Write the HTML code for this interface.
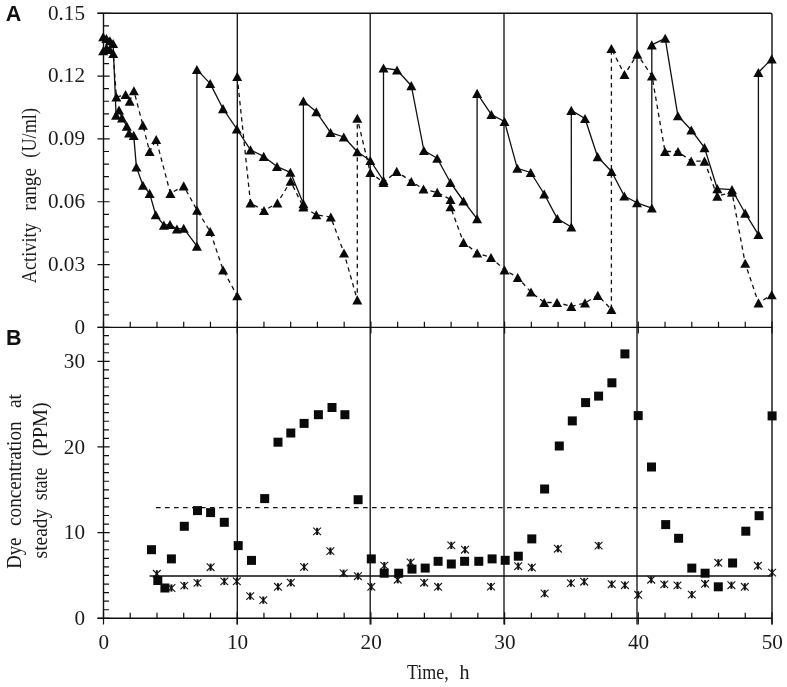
<!DOCTYPE html>
<html lang="en"><head><meta charset="utf-8"><title>Activity range and dye concentration</title>
<style>
html,body{margin:0;padding:0;background:#fff;}
body{width:787px;height:687px;overflow:hidden;}
svg{display:block;filter:blur(0.3px);}
.ser{font-family:"Liberation Serif",serif;font-size:20px;fill:#1a1a1a;}
.lab{font-family:"Liberation Sans",sans-serif;font-weight:bold;font-size:21.5px;fill:#111;}
</style></head><body>
<svg width="787" height="687" viewBox="0 0 787 687">
<rect x="0" y="0" width="787" height="687" fill="#ffffff"/>
<defs>
<path id="tri" d="M0,-4.6 L5,4.5 L-5,4.5 Z"/>
<rect id="sq" x="-4.5" y="-4.5" width="9" height="9"/>
<g id="ast"><path d="M-3.9,-3.8 L3.9,3.8 M3.9,-3.8 L-3.9,3.8" fill="none" stroke="#161616" stroke-width="1.1"/><path d="M0,-3.6 L0,3.6" fill="none" stroke="#111" stroke-width="2.1"/></g>
</defs>

<g fill="none" stroke="#101010" stroke-width="1.4" stroke-linecap="butt">
<path d="M97.5,13.3 H770.5 Q772,13.3 772,14.8 V624.5"/>
<path d="M103.5,13.3 V618.3"/>
<path d="M97.5,327.4 H772"/>
<path d="M97.5,618.3 H772"/>
<path d="M237.3,13.3 V624.5" stroke-width="1.3" stroke="#0c0c0c"/>
<path d="M370.2,13.3 V624.5" stroke-width="1.3" stroke="#0c0c0c"/>
<path d="M504.0,13.3 V624.5" stroke-width="1.3" stroke="#0c0c0c"/>
<path d="M637.0,13.3 V624.5" stroke-width="1.3" stroke="#0c0c0c"/>
</g>
<g fill="none" stroke="#101010" stroke-width="1.2">
<path d="M97.5,327.40 H109.7 M103.5,314.84 H109 M103.5,302.27 H109 M103.5,289.71 H109 M103.5,277.14 H109 M97.5,264.58 H109.7 M103.5,252.02 H109 M103.5,239.45 H109 M103.5,226.89 H109 M103.5,214.32 H109 M97.5,201.76 H109.7 M103.5,189.20 H109 M103.5,176.63 H109 M103.5,164.07 H109 M103.5,151.50 H109 M97.5,138.94 H109.7 M103.5,126.38 H109 M103.5,113.81 H109 M103.5,101.25 H109 M103.5,88.68 H109 M97.5,76.12 H109.7 M103.5,63.56 H109 M103.5,50.99 H109 M103.5,38.43 H109 M103.5,25.86 H109 M97.5,13.30 H109.7 M97.5,618.30 H109.7 M103.5,609.73 H109 M103.5,601.17 H109 M103.5,592.60 H109 M103.5,584.03 H109 M103.5,575.47 H109 M103.5,566.90 H109 M103.5,558.33 H109 M103.5,549.77 H109 M103.5,541.20 H109 M97.5,532.63 H109.7 M103.5,524.07 H109 M103.5,515.50 H109 M103.5,506.93 H109 M103.5,498.37 H109 M103.5,489.80 H109 M103.5,481.23 H109 M103.5,472.67 H109 M103.5,464.10 H109 M103.5,455.53 H109 M97.5,446.97 H109.7 M103.5,438.40 H109 M103.5,429.83 H109 M103.5,421.27 H109 M103.5,412.70 H109 M103.5,404.13 H109 M103.5,395.57 H109 M103.5,387.00 H109 M103.5,378.43 H109 M103.5,369.87 H109 M97.5,361.30 H109.7 M103.5,352.73 H109 M103.5,344.17 H109 M103.5,335.60 H109 M103.50,321.4 V333.59999999999997 M130.24,321.79999999999995 V327.4 M156.98,321.79999999999995 V327.4 M183.72,321.79999999999995 V327.4 M210.46,321.79999999999995 V327.4 M237.20,321.4 V333.59999999999997 M263.94,321.79999999999995 V327.4 M290.68,321.79999999999995 V327.4 M317.42,321.79999999999995 V327.4 M344.16,321.79999999999995 V327.4 M370.90,321.4 V333.59999999999997 M397.64,321.79999999999995 V327.4 M424.38,321.79999999999995 V327.4 M451.12,321.79999999999995 V327.4 M477.86,321.79999999999995 V327.4 M504.60,321.4 V333.59999999999997 M531.34,321.79999999999995 V327.4 M558.08,321.79999999999995 V327.4 M584.82,321.79999999999995 V327.4 M611.56,321.79999999999995 V327.4 M638.30,321.4 V333.59999999999997 M665.04,321.79999999999995 V327.4 M691.78,321.79999999999995 V327.4 M718.52,321.79999999999995 V327.4 M745.26,321.79999999999995 V327.4 M772.00,321.4 V333.59999999999997 M103.50,612.3 V624.5 M130.24,612.6999999999999 V618.3 M156.98,612.6999999999999 V618.3 M183.72,612.6999999999999 V618.3 M210.46,612.6999999999999 V618.3 M237.20,612.3 V624.5 M263.94,612.6999999999999 V618.3 M290.68,612.6999999999999 V618.3 M317.42,612.6999999999999 V618.3 M344.16,612.6999999999999 V618.3 M370.90,612.3 V624.5 M397.64,612.6999999999999 V618.3 M424.38,612.6999999999999 V618.3 M451.12,612.6999999999999 V618.3 M477.86,612.6999999999999 V618.3 M504.60,612.3 V624.5 M531.34,612.6999999999999 V618.3 M558.08,612.6999999999999 V618.3 M584.82,612.6999999999999 V618.3 M611.56,612.6999999999999 V618.3 M638.30,612.3 V624.5 M665.04,612.6999999999999 V618.3 M691.78,612.6999999999999 V618.3 M718.52,612.6999999999999 V618.3 M745.26,612.6999999999999 V618.3 M772.00,612.3 V624.5"/>
</g>
<path d="M149.6,576 H772" stroke="#0c0c0c" stroke-width="1.3" fill="none"/>
<path d="M156,507.7 H772" stroke="#101010" stroke-width="1.3" stroke-dasharray="4.6 4.4" fill="none"/>
<path d="M103.2,50.8 L106.5,48.0 L109.8,49.5 L113.2,53.6 L116.4,97.1 L125.6,94.6 L129.7,101.2 L133.9,90.8 L142.9,125.2 L149.6,151.6 L156.2,139.6 L170.4,193.4 L183.7,185.9 L197.1,210.3 L210.2,231.6 L223.1,270 L237.2,295.8 M237.2,76.5 L250.5,203 L264,210.6 L277.4,203.1 L290.6,181.3 L303.3,207 L316.3,214.8 L330.8,217.1 L344,253 L357.3,299.9 L357.3,118.3 L370.3,172.5 L383.5,182.6 L396.7,171.4 L411.3,181.5 L423.5,189.1 L437.2,192.4 L450.5,199.5 L450.5,206.8 L463.5,242.4 L477.2,253 L491,257.5 L504.5,269.9 L517.7,277.5 L531,292.1 L544.2,302.5 L557,302.5 L571.3,306.4 L585,302.9 L597.8,295.4 L611.4,309.5 L611.4,48.5 L624.5,74.6 L637.3,54.2 L652,76.1 L665,151.5 L678,151.5 L691.2,161.2 L704.5,161.2 L717.3,196.2 L732,192.2 L745.2,263.3 L758.5,302.9 L771.7,294.8" stroke="#101010" stroke-width="1.3" stroke-dasharray="4.4 3.8" fill="none" stroke-linejoin="round"/>
<path d="M103.2,36.8 L106.4,38.5 L109.9,40.8 L113.1,43.6 L116.1,115.2 L119,110.1 L122,117.9 L126.8,126.2 L129.1,133 L133.7,135.4 L136.4,167.1 L142.9,185.3 L149.6,193.4 L155.7,214.8 L163.9,225.2 L170,224.6 L176.9,229.1 L183.7,228.3 L196.9,246.2 L196.9,69.6 L210.2,83.6 L223,108.7 L236.8,129 L250.5,149.9 L263.7,156.4 L277,166.6 L290.4,172.3 L303.4,203.7 L303.4,101 L316.3,111.8 L330.6,132.6 L343.8,137 L357.3,151.8 L370.3,160.5 L383.5,180.6 L383.5,68.1 L397,70 L411.3,85.7 L423.9,150.5 L437.2,158.3 L450.4,182.5 L463.5,201 L477.1,218.8 L477.1,93.4 L491.4,114.6 L504.5,121.5 L517.3,168.3 L530.7,172.5 L544.2,194 L557.3,218.6 L571.3,227 L571.3,110.4 L585,118.5 L597.6,156.7 L611.5,171.5 L624.3,196 L637,202.8 L651.8,208.1 L651.8,44.9 L665.2,38.3 L677.9,115.8 L691.3,130 L704.5,147.7 L717.3,188.7 L732,189.7 L745.2,213.2 L758.4,234.6 L758.4,72.5 L771.7,58.9" stroke="#101010" stroke-width="1.3" fill="none" stroke-linejoin="round"/>
<g fill="#0a0a0a">
<use href="#tri" x="103.2" y="50.8"/>
<use href="#tri" x="106.5" y="48.0"/>
<use href="#tri" x="109.8" y="49.5"/>
<use href="#tri" x="113.2" y="53.6"/>
<use href="#tri" x="116.4" y="97.1"/>
<use href="#tri" x="125.6" y="94.6"/>
<use href="#tri" x="129.7" y="101.2"/>
<use href="#tri" x="133.9" y="90.8"/>
<use href="#tri" x="142.9" y="125.2"/>
<use href="#tri" x="149.6" y="151.6"/>
<use href="#tri" x="156.2" y="139.6"/>
<use href="#tri" x="170.4" y="193.4"/>
<use href="#tri" x="183.7" y="185.9"/>
<use href="#tri" x="197.1" y="210.3"/>
<use href="#tri" x="210.2" y="231.6"/>
<use href="#tri" x="223.1" y="270"/>
<use href="#tri" x="237.2" y="295.8"/>
<use href="#tri" x="237.2" y="76.5"/>
<use href="#tri" x="250.5" y="203"/>
<use href="#tri" x="264" y="210.6"/>
<use href="#tri" x="277.4" y="203.1"/>
<use href="#tri" x="290.6" y="181.3"/>
<use href="#tri" x="303.3" y="207"/>
<use href="#tri" x="316.3" y="214.8"/>
<use href="#tri" x="330.8" y="217.1"/>
<use href="#tri" x="344" y="253"/>
<use href="#tri" x="357.3" y="299.9"/>
<use href="#tri" x="357.3" y="118.3"/>
<use href="#tri" x="370.3" y="172.5"/>
<use href="#tri" x="383.5" y="182.6"/>
<use href="#tri" x="396.7" y="171.4"/>
<use href="#tri" x="411.3" y="181.5"/>
<use href="#tri" x="423.5" y="189.1"/>
<use href="#tri" x="437.2" y="192.4"/>
<use href="#tri" x="450.5" y="199.5"/>
<use href="#tri" x="450.5" y="206.8"/>
<use href="#tri" x="463.5" y="242.4"/>
<use href="#tri" x="477.2" y="253"/>
<use href="#tri" x="491" y="257.5"/>
<use href="#tri" x="504.5" y="269.9"/>
<use href="#tri" x="517.7" y="277.5"/>
<use href="#tri" x="531" y="292.1"/>
<use href="#tri" x="544.2" y="302.5"/>
<use href="#tri" x="557" y="302.5"/>
<use href="#tri" x="571.3" y="306.4"/>
<use href="#tri" x="585" y="302.9"/>
<use href="#tri" x="597.8" y="295.4"/>
<use href="#tri" x="611.4" y="309.5"/>
<use href="#tri" x="611.4" y="48.5"/>
<use href="#tri" x="624.5" y="74.6"/>
<use href="#tri" x="637.3" y="54.2"/>
<use href="#tri" x="652" y="76.1"/>
<use href="#tri" x="665" y="151.5"/>
<use href="#tri" x="678" y="151.5"/>
<use href="#tri" x="691.2" y="161.2"/>
<use href="#tri" x="704.5" y="161.2"/>
<use href="#tri" x="717.3" y="196.2"/>
<use href="#tri" x="732" y="192.2"/>
<use href="#tri" x="745.2" y="263.3"/>
<use href="#tri" x="758.5" y="302.9"/>
<use href="#tri" x="771.7" y="294.8"/>
<use href="#tri" x="103.2" y="36.8"/>
<use href="#tri" x="106.4" y="38.5"/>
<use href="#tri" x="109.9" y="40.8"/>
<use href="#tri" x="113.1" y="43.6"/>
<use href="#tri" x="116.1" y="115.2"/>
<use href="#tri" x="119" y="110.1"/>
<use href="#tri" x="122" y="117.9"/>
<use href="#tri" x="126.8" y="126.2"/>
<use href="#tri" x="129.1" y="133"/>
<use href="#tri" x="133.7" y="135.4"/>
<use href="#tri" x="136.4" y="167.1"/>
<use href="#tri" x="142.9" y="185.3"/>
<use href="#tri" x="149.6" y="193.4"/>
<use href="#tri" x="155.7" y="214.8"/>
<use href="#tri" x="163.9" y="225.2"/>
<use href="#tri" x="170" y="224.6"/>
<use href="#tri" x="176.9" y="229.1"/>
<use href="#tri" x="183.7" y="228.3"/>
<use href="#tri" x="196.9" y="246.2"/>
<use href="#tri" x="196.9" y="69.6"/>
<use href="#tri" x="210.2" y="83.6"/>
<use href="#tri" x="223" y="108.7"/>
<use href="#tri" x="236.8" y="129"/>
<use href="#tri" x="250.5" y="149.9"/>
<use href="#tri" x="263.7" y="156.4"/>
<use href="#tri" x="277" y="166.6"/>
<use href="#tri" x="290.4" y="172.3"/>
<use href="#tri" x="303.4" y="203.7"/>
<use href="#tri" x="303.4" y="101"/>
<use href="#tri" x="316.3" y="111.8"/>
<use href="#tri" x="330.6" y="132.6"/>
<use href="#tri" x="343.8" y="137"/>
<use href="#tri" x="357.3" y="151.8"/>
<use href="#tri" x="370.3" y="160.5"/>
<use href="#tri" x="383.5" y="180.6"/>
<use href="#tri" x="383.5" y="68.1"/>
<use href="#tri" x="397" y="70"/>
<use href="#tri" x="411.3" y="85.7"/>
<use href="#tri" x="423.9" y="150.5"/>
<use href="#tri" x="437.2" y="158.3"/>
<use href="#tri" x="450.4" y="182.5"/>
<use href="#tri" x="463.5" y="201"/>
<use href="#tri" x="477.1" y="218.8"/>
<use href="#tri" x="477.1" y="93.4"/>
<use href="#tri" x="491.4" y="114.6"/>
<use href="#tri" x="504.5" y="121.5"/>
<use href="#tri" x="517.3" y="168.3"/>
<use href="#tri" x="530.7" y="172.5"/>
<use href="#tri" x="544.2" y="194"/>
<use href="#tri" x="557.3" y="218.6"/>
<use href="#tri" x="571.3" y="227"/>
<use href="#tri" x="571.3" y="110.4"/>
<use href="#tri" x="585" y="118.5"/>
<use href="#tri" x="597.6" y="156.7"/>
<use href="#tri" x="611.5" y="171.5"/>
<use href="#tri" x="624.3" y="196"/>
<use href="#tri" x="637" y="202.8"/>
<use href="#tri" x="651.8" y="208.1"/>
<use href="#tri" x="651.8" y="44.9"/>
<use href="#tri" x="665.2" y="38.3"/>
<use href="#tri" x="677.9" y="115.8"/>
<use href="#tri" x="691.3" y="130"/>
<use href="#tri" x="704.5" y="147.7"/>
<use href="#tri" x="717.3" y="188.7"/>
<use href="#tri" x="732" y="189.7"/>
<use href="#tri" x="745.2" y="213.2"/>
<use href="#tri" x="758.4" y="234.6"/>
<use href="#tri" x="758.4" y="72.5"/>
<use href="#tri" x="771.7" y="58.9"/>
</g>
<g>
<use href="#ast" x="156.8" y="573.8"/>
<use href="#ast" x="171.4" y="588"/>
<use href="#ast" x="184.3" y="585.6"/>
<use href="#ast" x="197.5" y="582.9"/>
<use href="#ast" x="210.6" y="567.2"/>
<use href="#ast" x="224.3" y="581.4"/>
<use href="#ast" x="236.8" y="581.3"/>
<use href="#ast" x="250.2" y="596.1"/>
<use href="#ast" x="263.3" y="600.1"/>
<use href="#ast" x="278" y="586.8"/>
<use href="#ast" x="290.8" y="582.7"/>
<use href="#ast" x="304.1" y="567"/>
<use href="#ast" x="317.1" y="531.4"/>
<use href="#ast" x="330.4" y="551.1"/>
<use href="#ast" x="343.6" y="573.2"/>
<use href="#ast" x="357.9" y="576.2"/>
<use href="#ast" x="371.3" y="586.8"/>
<use href="#ast" x="384.3" y="565.6"/>
<use href="#ast" x="397.7" y="579.7"/>
<use href="#ast" x="410.6" y="562.4"/>
<use href="#ast" x="424.2" y="582.7"/>
<use href="#ast" x="438.1" y="586.8"/>
<use href="#ast" x="451.3" y="545.4"/>
<use href="#ast" x="465" y="549.7"/>
<use href="#ast" x="491" y="586.6"/>
<use href="#ast" x="518.2" y="566.2"/>
<use href="#ast" x="531.8" y="567.5"/>
<use href="#ast" x="544.6" y="593.5"/>
<use href="#ast" x="557.9" y="548.7"/>
<use href="#ast" x="570.9" y="583.1"/>
<use href="#ast" x="584.2" y="581.7"/>
<use href="#ast" x="598.6" y="545.6"/>
<use href="#ast" x="611.7" y="584.2"/>
<use href="#ast" x="624.9" y="585.2"/>
<use href="#ast" x="638.2" y="594.8"/>
<use href="#ast" x="651.2" y="579.7"/>
<use href="#ast" x="664.3" y="584.4"/>
<use href="#ast" x="677.5" y="585.4"/>
<use href="#ast" x="691.8" y="594.6"/>
<use href="#ast" x="705.1" y="583.8"/>
<use href="#ast" x="718.3" y="562.8"/>
<use href="#ast" x="731.4" y="585.2"/>
<use href="#ast" x="744.8" y="586.8"/>
<use href="#ast" x="757.9" y="565.8"/>
<use href="#ast" x="772.1" y="572.6"/>
</g>
<g fill="#0a0a0a">
<use href="#sq" x="151.5" y="549.7"/>
<use href="#sq" x="157.8" y="580.5"/>
<use href="#sq" x="164.9" y="588"/>
<use href="#sq" x="171.4" y="558.9"/>
<use href="#sq" x="184.3" y="526.3"/>
<use href="#sq" x="197.5" y="510.6"/>
<use href="#sq" x="210.6" y="512.6"/>
<use href="#sq" x="224.3" y="522.3"/>
<use href="#sq" x="238.2" y="545.6"/>
<use href="#sq" x="251.5" y="560.4"/>
<use href="#sq" x="264.7" y="498.6"/>
<use href="#sq" x="278" y="442.2"/>
<use href="#sq" x="290.8" y="433"/>
<use href="#sq" x="304.1" y="423.4"/>
<use href="#sq" x="318.4" y="414.7"/>
<use href="#sq" x="332" y="407.5"/>
<use href="#sq" x="344.9" y="414.7"/>
<use href="#sq" x="358.1" y="499.7"/>
<use href="#sq" x="371.3" y="558.9"/>
<use href="#sq" x="384.2" y="573.2"/>
<use href="#sq" x="398.7" y="573.2"/>
<use href="#sq" x="412" y="569.1"/>
<use href="#sq" x="425.2" y="568.1"/>
<use href="#sq" x="438.1" y="561.3"/>
<use href="#sq" x="451.3" y="564"/>
<use href="#sq" x="464.6" y="561.3"/>
<use href="#sq" x="478.8" y="561.3"/>
<use href="#sq" x="492.1" y="558.9"/>
<use href="#sq" x="505.2" y="560.3"/>
<use href="#sq" x="518.3" y="556.2"/>
<use href="#sq" x="531.8" y="538.9"/>
<use href="#sq" x="544.6" y="489"/>
<use href="#sq" x="559.3" y="446"/>
<use href="#sq" x="572.3" y="420.9"/>
<use href="#sq" x="585.6" y="402.6"/>
<use href="#sq" x="598.6" y="396.1"/>
<use href="#sq" x="611.9" y="382.8"/>
<use href="#sq" x="624.9" y="353.9"/>
<use href="#sq" x="638.2" y="415.6"/>
<use href="#sq" x="651.5" y="467"/>
<use href="#sq" x="665.7" y="524.6"/>
<use href="#sq" x="678.6" y="538.3"/>
<use href="#sq" x="691.8" y="568.1"/>
<use href="#sq" x="705.1" y="573.2"/>
<use href="#sq" x="718.3" y="586.8"/>
<use href="#sq" x="732.6" y="563"/>
<use href="#sq" x="745.8" y="531.2"/>
<use href="#sq" x="759.1" y="515.7"/>
<use href="#sq" x="772.1" y="415.9"/>
</g>
<text class="lab" x="5.8" y="21">A</text>
<text class="lab" x="6.0" y="344.8">B</text>
<g class="ser" text-anchor="end">
<text x="85" y="333.7" textLength="10.6" lengthAdjust="spacingAndGlyphs">0</text>
<text x="85" y="270.9" textLength="37.1" lengthAdjust="spacingAndGlyphs">0.03</text>
<text x="85" y="208.1" textLength="37.1" lengthAdjust="spacingAndGlyphs">0.06</text>
<text x="85" y="145.2" textLength="37.1" lengthAdjust="spacingAndGlyphs">0.09</text>
<text x="85" y="82.4" textLength="37.1" lengthAdjust="spacingAndGlyphs">0.12</text>
<text x="85" y="19.6" textLength="37.1" lengthAdjust="spacingAndGlyphs">0.15</text>
<text x="85" y="625.1" textLength="10.6" lengthAdjust="spacingAndGlyphs">0</text>
<text x="85" y="539.4" textLength="21.2" lengthAdjust="spacingAndGlyphs">10</text>
<text x="85" y="453.8" textLength="21.2" lengthAdjust="spacingAndGlyphs">20</text>
<text x="85" y="368.1" textLength="21.2" lengthAdjust="spacingAndGlyphs">30</text>
</g>
<g class="ser" text-anchor="middle">
<text x="103.8" y="648.6" textLength="10.6" lengthAdjust="spacingAndGlyphs">0</text>
<text x="237.5" y="648.6" textLength="21.2" lengthAdjust="spacingAndGlyphs">10</text>
<text x="371.2" y="648.6" textLength="21.2" lengthAdjust="spacingAndGlyphs">20</text>
<text x="504.9" y="648.6" textLength="21.2" lengthAdjust="spacingAndGlyphs">30</text>
<text x="638.6" y="648.6" textLength="21.2" lengthAdjust="spacingAndGlyphs">40</text>
<text x="772.3" y="648.6" textLength="21.2" lengthAdjust="spacingAndGlyphs">50</text>
</g>
<g class="ser">
<text x="407" y="679" textLength="41.8" lengthAdjust="spacingAndGlyphs">Time,</text>
<text x="459.6" y="679">h</text>
<text transform="translate(36.4,283.3) rotate(-90)" textLength="60.1" lengthAdjust="spacingAndGlyphs">Activity</text>
<text transform="translate(36.4,210.7) rotate(-90)" textLength="42.7" lengthAdjust="spacingAndGlyphs">range</text>
<text transform="translate(36.4,157.7) rotate(-90)" textLength="49.7" lengthAdjust="spacingAndGlyphs">(U/ml)</text>
<text transform="translate(21.0,568.8) rotate(-90)" textLength="31.2" lengthAdjust="spacingAndGlyphs">Dye</text>
<text transform="translate(21.0,525.9) rotate(-90)" textLength="104.5" lengthAdjust="spacingAndGlyphs">concentration</text>
<text transform="translate(21.0,408.0) rotate(-90)" textLength="14.0" lengthAdjust="spacingAndGlyphs">at</text>
<text transform="translate(47.0,558.4) rotate(-90)" textLength="49.6" lengthAdjust="spacingAndGlyphs">steady</text>
<text transform="translate(47.0,500.3) rotate(-90)" textLength="32.7" lengthAdjust="spacingAndGlyphs">state</text>
<text transform="translate(47.0,456.2) rotate(-90)" textLength="53.9" lengthAdjust="spacingAndGlyphs">(PPM)</text>
</g>
</svg>
</body></html>
